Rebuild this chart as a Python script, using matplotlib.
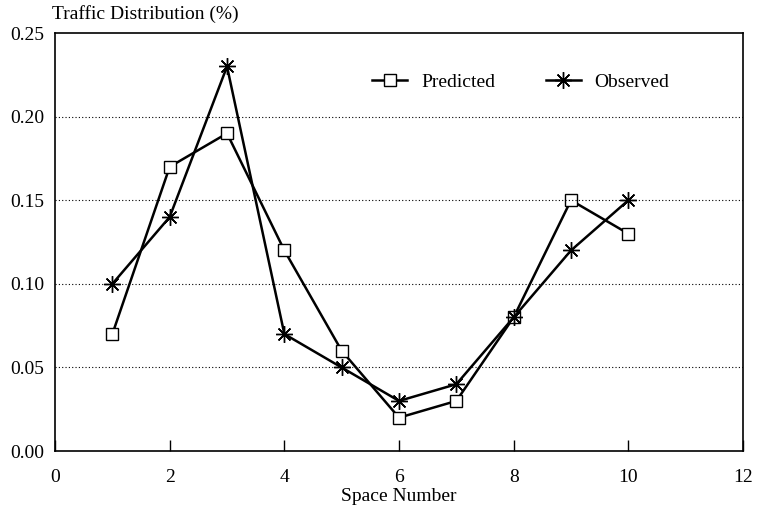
import matplotlib
matplotlib.use('Agg')
import matplotlib.pyplot as plt

# values
space = [1, 2, 3, 4, 5, 6, 7, 8, 9, 10]
predicted = [0.07, 0.17, 0.19, 0.12, 0.06, 0.02, 0.03, 0.08, 0.15, 0.13]
observed = [0.10, 0.14, 0.23, 0.07, 0.05, 0.03, 0.04, 0.08, 0.12, 0.15]
xticks = [0, 2, 4, 6, 8, 10, 12]
yticks = [0.00, 0.05, 0.10, 0.15, 0.20, 0.25]

plt.rcParams['font.family'] = ['Liberation Serif', 'DejaVu Serif']
plt.rcParams['font.size'] = 14

fig = plt.figure(figsize=(7.57, 5.08), dpi=100)
ax = fig.add_axes([0.0727, 0.112, 0.9088, 0.823])

ax.plot(space, predicted, color='black', lw=1.8, marker='s', ms=9,
        mfc='white', mec='black', mew=1.0, label='Predicted')
ax.plot(space, observed, color='black', lw=1.8, marker=(8, 2, 0), ms=12,
        mec='black', mew=1.0, label='Observed')

ax.set_xlim(0, 12)
ax.set_ylim(0, 0.25)
ax.set_xticks(xticks)
ax.set_yticks(yticks)
ax.set_yticklabels(['%.2f' % v for v in yticks])
ax.tick_params(direction='in', length=8, width=1, colors='black', pad=13)
ax.tick_params(axis='y', length=0, pad=8)

for v in yticks[1:-1]:
    ax.axhline(v, color='black', lw=0.8, ls=(0, (1, 2)))

for s in ax.spines.values():
    s.set_linewidth(1.2)

ax.set_xlabel('Space Number', labelpad=1)
ax.text(-0.005, 1.025, 'Traffic Distribution (%)', transform=ax.transAxes,
        ha='left', va='bottom')

ax.legend(loc='center', bbox_to_anchor=(0.677, 0.883), ncol=2, frameon=False,
          handlelength=1.8, columnspacing=2.6, handletextpad=0.7)

fig.savefig('out.png', dpi=100)
